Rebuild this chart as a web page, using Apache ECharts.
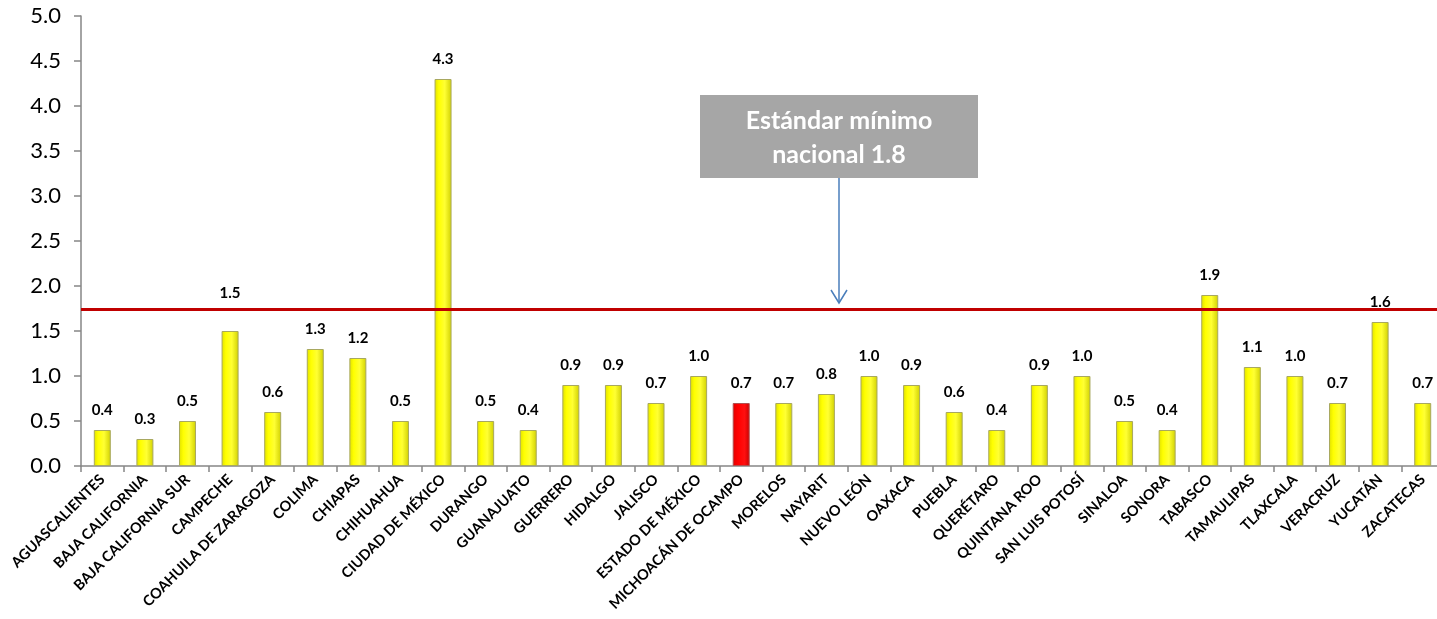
<!DOCTYPE html>
<html>
<head>
<meta charset="utf-8">
<script src="https://cdn.jsdelivr.net/npm/echarts@6/dist/echarts.min.js"></script>
<style>html,body{margin:0;padding:0;background:#fff;overflow:hidden;}#c{width:1444px;height:619px;}</style>
</head>
<body>
<div id="c"></div>
<script>
const categories = ["AGUASCALIENTES","BAJA CALIFORNIA","BAJA CALIFORNIA SUR","CAMPECHE","COAHUILA DE ZARAGOZA","COLIMA","CHIAPAS","CHIHUAHUA","CIUDAD DE MÉXICO","DURANGO","GUANAJUATO","GUERRERO","HIDALGO","JALISCO","ESTADO DE MÉXICO","MICHOACÁN DE OCAMPO","MORELOS","NAYARIT","NUEVO LEÓN","OAXACA","PUEBLA","QUERÉTARO","QUINTANA ROO","SAN LUIS POTOSÍ","SINALOA","SONORA","TABASCO","TAMAULIPAS","TLAXCALA","VERACRUZ","YUCATÁN","ZACATECAS"];
const values = [0.4,0.3,0.5,1.5,0.6,1.3,1.2,0.5,4.3,0.5,0.4,0.9,0.9,0.7,1.0,0.7,0.7,0.8,1.0,0.9,0.6,0.4,0.9,1.0,0.5,0.4,1.9,1.1,1.0,0.7,1.6,0.7];
const highlighted = ["MICHOACÁN DE OCAMPO"];
const standardLine = 1.74;
const annotationText = "Estándar mínimo\nnacional 1.8";
const yTicks = [0,0.5,1,1.5,2,2.5,3,3.5,4,4.5,5];

const font = "Lato, 'Open Sans', sans-serif";
const yellow = {type:'linear',x:0,y:0,x2:1,y2:0,colorStops:[
  {offset:0,color:'#E0E000'},{offset:0.25,color:'#FFFF00'},{offset:0.6,color:'#FFFF33'},{offset:1,color:'#D0D000'}]};
const red = {type:'linear',x:0,y:0,x2:1,y2:0,colorStops:[
  {offset:0,color:'#E00000'},{offset:0.3,color:'#FF0000'},{offset:0.7,color:'#FF1010'},{offset:1,color:'#C80000'}]};

const data = values.map((v,i)=>{
  const item = {value:v};
  if (highlighted.includes(categories[i])) {
    item.itemStyle = {color:red, borderColor:'#B05050'};
  }
  if (categories[i] === "CAMPECHE") {
    item.label = {distance:30};
  }
  return item;
});

const chart = echarts.init(document.getElementById('c'), null, {renderer:'canvas'});
chart.setOption({
  animation:false,
  backgroundColor:'#ffffff',
  grid:{left:81, top:16, height:450, width:1363, containLabel:false},
  xAxis:{
    type:'category', data:categories,
    axisLine:{lineStyle:{color:'#868686', width:1.5}},
    axisTick:{show:true, length:6, alignWithLabel:false, lineStyle:{color:'#868686', width:1.5}},
    axisLabel:{interval:0, rotate:45, fontFamily:font, fontWeight:'bold', fontSize:14.5, color:'#000', margin:11}
  },
  yAxis:{
    type:'value', min:yTicks[0], max:yTicks[yTicks.length-1], interval:0.5,
    axisLine:{show:true, lineStyle:{color:'#868686', width:1.5}},
    axisTick:{show:true, length:7, lineStyle:{color:'#868686', width:1.5}},
    splitLine:{show:false},
    axisLabel:{formatter:v=>v.toFixed(1), fontFamily:font, fontSize:22, color:'#000', margin:20}
  },
  series:[{
    type:'bar', data:data, barWidth:17,
    itemStyle:{color:yellow, borderColor:'#A8A860', borderWidth:1},
    label:{show:true, position:'top', distance:12, formatter:p=>p.value.toFixed(1),
      fontFamily:font, fontWeight:'bold', fontSize:15, color:'#000'},
    markLine:{
      silent:true, symbol:['none','none'],
      label:{show:false},
      lineStyle:{color:'#C00000', width:3, type:'solid'},
      data:[{yAxis:standardLine}]
    }
  }],
  graphic:[
    {type:'rect', left:700, top:95, shape:{width:278, height:83}, style:{fill:'#A6A6A6'}, z:10},
    {type:'text', z:11,
      style:{text:annotationText, x:839, y:104, textAlign:'center', fill:'#fff', font:"bold 25px "+font, lineHeight:34}},
    {type:'line', shape:{x1:839, y1:178, x2:839, y2:303}, style:{stroke:'#4A7EBB', lineWidth:1.5}, z:11},
    {type:'polyline', shape:{points:[[831,290],[839,303],[847,290]]}, style:{stroke:'#4A7EBB', lineWidth:1.5, fill:null}, z:11}
  ]
});
</script>
</body>
</html>
